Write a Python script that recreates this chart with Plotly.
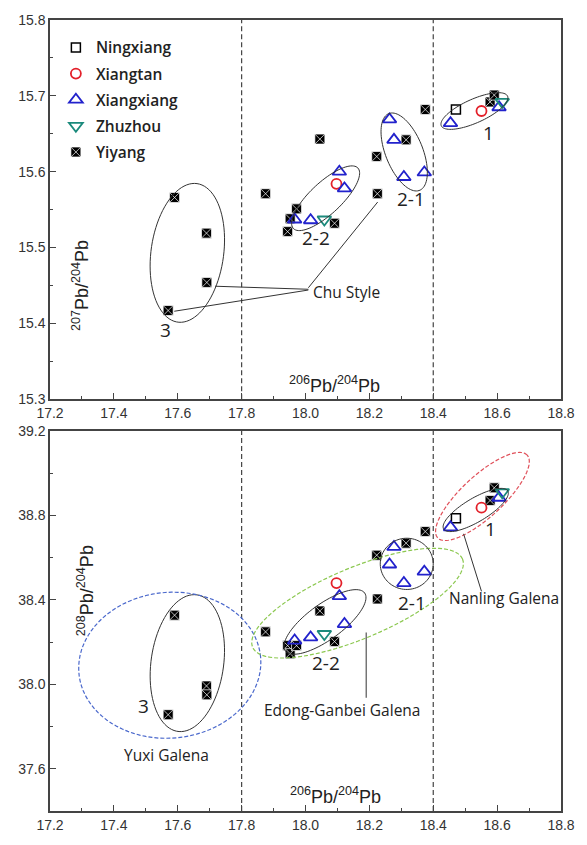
import numpy as np
import plotly.graph_objects as go

# ---------------- data ----------------
ningxiang_206 = [18.471]
ningxiang_207 = [15.682]
ningxiang_208 = [38.786]

xiangtan_206 = [18.097, 18.551]
xiangtan_207 = [15.584, 15.680]
xiangtan_208 = [38.479, 38.836]

xiangxiang_206 = [17.966, 18.016, 18.106, 18.122, 18.263, 18.277, 18.308, 18.372, 18.454, 18.606]
xiangxiang_207 = [15.537, 15.536, 15.600, 15.578, 15.669, 15.642, 15.593, 15.599, 15.664, 15.685]
xiangxiang_208 = [38.207, 38.222, 38.417, 38.285, 38.567, 38.650, 38.479, 38.533, 38.743, 38.883]

zhuzhou_206 = [18.059, 18.616]
zhuzhou_207 = [15.537, 15.692]
zhuzhou_208 = [38.238, 38.909]

yiyang_206 = [17.570, 17.590, 17.690, 17.691, 17.875, 17.944, 17.952, 17.972,
              18.045, 18.091, 18.223, 18.225, 18.315, 18.375, 18.578, 18.591]
yiyang_207 = [15.417, 15.566, 15.519, 15.454, 15.571, 15.521, 15.538, 15.551,
              15.643, 15.532, 15.620, 15.571, 15.642, 15.682, 15.692, 15.701]
yiyang_208 = [37.856, 38.327, 37.992, 37.950, 38.248, 38.183, 38.145, 38.183,
              38.347, 38.202, 38.611, 38.404, 38.668, 38.723, 38.870, 38.930]

x_range = [17.2, 18.8]
x_ticks = [17.2, 17.4, 17.6, 17.8, 18.0, 18.2, 18.4, 18.6, 18.8]
y1_range = [15.3, 15.8]
y2_range = [37.4, 39.2]
boundaries = [17.8, 18.4]

# ---------------- layout constants ----------------
W, H = 587, 845
ML, MR, MT, MB = 50, 16, 20, 22
PW = W - ML - MR
PH = H - MT - MB
top_dom = [(823 - 405) / PH, 1.0]
bot_dom = [0.0, (823 - 437) / PH]

xs = PW / (x_range[1] - x_range[0])
ys1 = PH * (top_dom[1] - top_dom[0]) / (y1_range[1] - y1_range[0])
ys2 = PH * (bot_dom[1] - bot_dom[0]) / (y2_range[1] - y2_range[0])


def ellipse_path(cx, cy, a, b, ang, ys):
    th = np.deg2rad(ang)
    t = np.linspace(0, 2 * np.pi, 90)
    dx = a * np.cos(t) * np.cos(th) - b * np.sin(t) * np.sin(th)
    dy = a * np.cos(t) * np.sin(th) + b * np.sin(t) * np.cos(th)
    X = cx + dx / xs
    Y = cy + dy / ys
    p = "M %.5f,%.5f " % (X[0], Y[0])
    p += " ".join("L %.5f,%.5f" % (x, y) for x, y in zip(X[1:], Y[1:]))
    return p + " Z"


fig = go.Figure()

series = [
    ("Yiyang", yiyang_206, yiyang_207, yiyang_208,
     dict(symbol="square-x", size=10, color="black", line=dict(color="white", width=0.7)), 5),
    ("Ningxiang", ningxiang_206, ningxiang_207, ningxiang_208,
     dict(symbol="square-open", size=9, color="black", line=dict(width=1.5)), 1),
    ("Xiangtan", xiangtan_206, xiangtan_207, xiangtan_208,
     dict(symbol="circle-open", size=10, color="#e3202a", line=dict(width=1.8)), 2),
    ("Xiangxiang", xiangxiang_206, xiangxiang_207, xiangxiang_208,
     dict(symbol="triangle-up-open", size=12, color="#2222cc", line=dict(width=1.8)), 3),
    ("Zhuzhou", zhuzhou_206, zhuzhou_207, zhuzhou_208,
     dict(symbol="triangle-down-open", size=12, color="#1b8a7c", line=dict(width=1.8)), 4),
]

for name, x, y7, y8, mk, rank in series:
    fig.add_trace(go.Scatter(x=x, y=y7, mode="markers", name=name, marker=mk,
                             xaxis="x", yaxis="y", legendgroup=name, legendrank=rank))
    fig.add_trace(go.Scatter(x=x, y=y8, mode="markers", name=name, marker=mk,
                             xaxis="x2", yaxis="y2", legendgroup=name, showlegend=False))

shapes = []
for xb in boundaries:
    for xr, yr in (("x", "y domain"), ("x2", "y2 domain")):
        shapes.append(dict(type="line", xref=xr, yref=yr, x0=xb, x1=xb, y0=0, y1=1,
                           line=dict(color="#444", width=1.2, dash="5px,3px"), layer="below"))

solid = dict(color="#333", width=1)
# top panel ellipses
top_ell = [(17.630, 15.493, 71, 37, 82), (18.063, 15.565, 45, 16, 43),
           (18.309, 15.626, 42, 19, 112), (18.529, 15.680, 37, 12, 24)]
for cx, cy, a, b, ang in top_ell:
    shapes.append(dict(type="path", xref="x", yref="y", path=ellipse_path(cx, cy, a, b, ang, ys1),
                       line=solid))
# bottom panel ellipses
bot_ell = [(17.630, 38.100, 70, 37, 82, solid),
           (17.575, 38.090, 93, 74, 5, dict(color="#4a68cc", width=1.2, dash="4px,2px")),
           (18.163, 38.384, 116, 36, 22.7, dict(color="#8cc850", width=1.2, dash="4px,2px")),
           (18.061, 38.295, 50, 18, 36, solid),
           (18.317, 38.570, 27, 26, 0, solid),
           (18.533, 38.825, 38, 12, 30.6, solid),
           (18.554, 38.889, 62, 21, 42.6, dict(color="#e0505a", width=1.2, dash="4px,2px"))]
for cx, cy, a, b, ang, ln in bot_ell:
    shapes.append(dict(type="path", xref="x2", yref="y2", path=ellipse_path(cx, cy, a, b, ang, ys2),
                       line=ln))

# leader lines
lead = dict(color="#333", width=1)
for (x0, y0, x1, y1) in [(18.009, 15.445, 17.717, 15.449), (18.009, 15.444, 17.589, 15.416),
                         (18.009, 15.447, 18.226, 15.560)]:
    shapes.append(dict(type="line", xref="x", yref="y", x0=x0, y0=y0, x1=x1, y1=y1, line=lead))
shapes.append(dict(type="line", xref="x2", yref="y2", x0=18.551, y0=38.440, x1=18.495, y1=38.712, line=lead))
shapes.append(dict(type="line", xref="x2", yref="y2", x0=18.190, y0=38.245, x1=18.190, y1=37.936, line=lead))

lab_font = dict(family="Open Sans", size=15.5, color="#222", weight=500)
num_font = dict(family="Open Sans", size=19, color="#222")
ttl_font = dict(family="Liberation Sans, Arial", size=18, color="#222")
ann = []
for txt, x, y, xr, yr in [("Chu Style", 18.127, 15.441, "x", "y"),
                          ("Nanling Galena", 18.622, 38.409, "x2", "y2"),
                          ("Edong-Ganbei Galena", 18.115, 37.880, "x2", "y2"),
                          ("Yuxi Galena", 17.564, 37.663, "x2", "y2")]:
    ann.append(dict(text=txt, x=x, y=y, xref=xr, yref=yr, showarrow=False, font=lab_font))
for txt, x, y, xr, yr in [("3", 17.563, 15.391, "x", "y"), ("2-2", 18.034, 15.513, "x", "y"),
                          ("2-1", 18.331, 15.564, "x", "y"), ("1", 18.572, 15.651, "x", "y"),
                          ("1", 18.580, 38.735, "x2", "y2"), ("2-1", 18.334, 38.385, "x2", "y2"),
                          ("2-2", 18.065, 38.100, "x2", "y2"), ("3", 17.492, 37.899, "x2", "y2")]:
    ann.append(dict(text=txt, x=x, y=y, xref=xr, yref=yr, showarrow=False, font=num_font))
xt = "<sup>206</sup>Pb/<sup>204</sup>Pb"
ann.append(dict(text=xt, x=18.091, y=15.319, xref="x", yref="y", showarrow=False, font=ttl_font))
ann.append(dict(text=xt, x=18.094, y=37.475, xref="x2", yref="y2", showarrow=False, font=ttl_font))
ann.append(dict(text="<sup>207</sup>Pb/<sup>204</sup>Pb", textangle=-90, x=(68 - ML) / PW,
                y=(823 - 290) / PH, xref="paper", yref="paper", showarrow=False, font=ttl_font))
ann.append(dict(text="<sup>208</sup>Pb/<sup>204</sup>Pb", textangle=-90, x=(72 - ML) / PW,
                y=(823 - 648) / PH, xref="paper", yref="paper", showarrow=False, font=ttl_font))

tickfont = dict(family="Liberation Sans, Arial", size=14, color="#333")
xcommon = dict(range=x_range, tickmode="array", tickvals=x_ticks,
               ticktext=["%.1f" % v for v in x_ticks], ticks="inside", ticklen=6, tickwidth=1.2,
               tickcolor="#444", showline=True, linecolor="#444", linewidth=1.5, mirror=True,
               showgrid=False, zeroline=False, tickfont=tickfont,
               minor=dict(dtick=0.1, ticks="inside", ticklen=3, tickcolor="#444", showgrid=False))
fig.update_layout(
    width=W, height=H, margin=dict(l=ML, r=MR, t=MT, b=MB),
    plot_bgcolor="white", paper_bgcolor="white",
    xaxis=dict(anchor="y", **xcommon),
    xaxis2=dict(anchor="y2", **xcommon),
    yaxis=dict(domain=top_dom, range=y1_range, anchor="x", tick0=15.3, dtick=0.1, tickformat=".1f",
               ticks="inside", ticklen=6, tickwidth=1.2, tickcolor="#444", showline=True,
               linecolor="#444", linewidth=1.5, mirror=True, showgrid=False, zeroline=False,
               tickfont=tickfont,
               minor=dict(dtick=0.05, ticks="inside", ticklen=3, tickcolor="#444", showgrid=False)),
    yaxis2=dict(domain=bot_dom, range=y2_range, anchor="x2", tick0=37.6, dtick=0.4, tickformat=".1f",
                ticks="inside", ticklen=6, tickwidth=1.2, tickcolor="#444", showline=True,
                linecolor="#444", linewidth=1.5, mirror=True, showgrid=False, zeroline=False,
                tickfont=tickfont,
                minor=dict(dtick=0.2, ticks="inside", ticklen=3, tickcolor="#444", showgrid=False)),
    legend=dict(x=(56 - ML) / PW, y=(823 - 31) / PH, xanchor="left", yanchor="top",
                bgcolor="rgba(0,0,0,0)",
                font=dict(family="Open Sans", size=15.5, color="#222", weight=600),
                tracegroupgap=3, itemwidth=30),
    shapes=shapes, annotations=ann, showlegend=True,
)

fig.write_html("out.html")
